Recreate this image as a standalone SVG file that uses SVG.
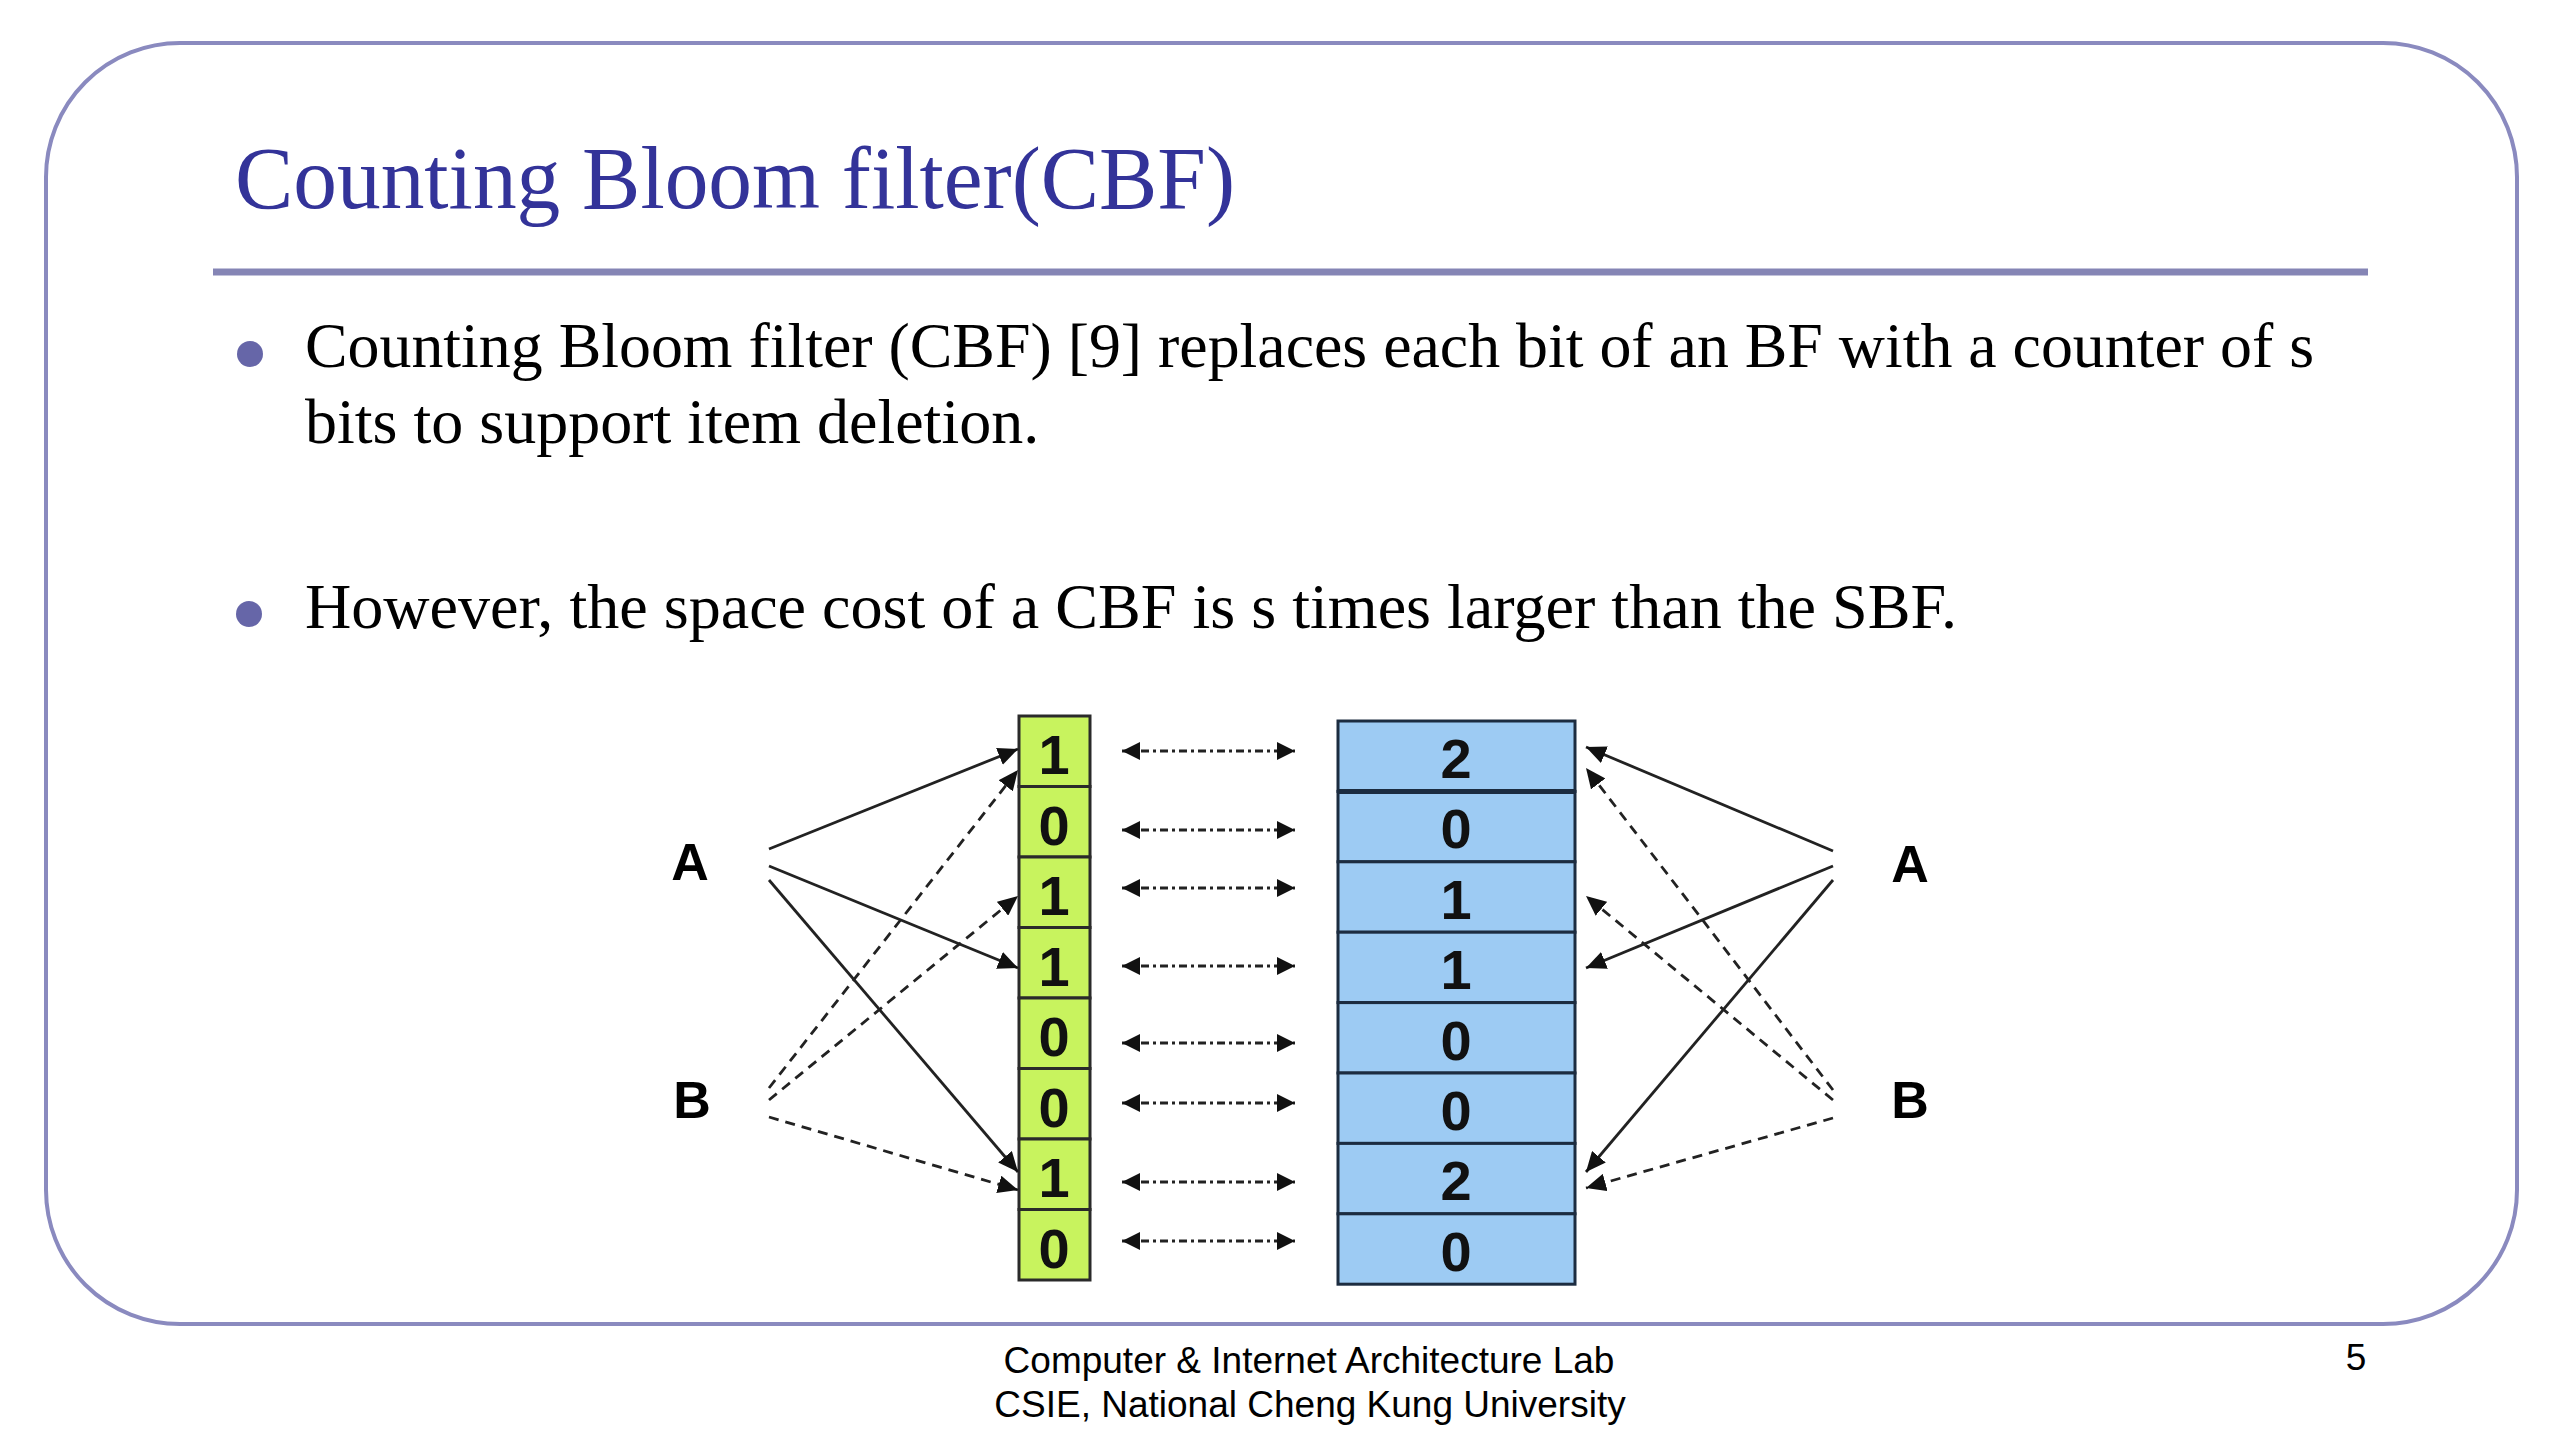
<svg xmlns="http://www.w3.org/2000/svg" width="2560" height="1440" viewBox="0 0 2560 1440">
<style>
.title{font-family:"Liberation Serif","Times New Roman",serif;font-size:88px;fill:#333399}
.body{font-family:"Liberation Serif","Times New Roman",serif;font-size:64px;fill:#000}
.foot{font-family:"Liberation Sans",Arial,sans-serif;font-size:37px;fill:#000}
.lbl{font-family:"Liberation Sans",Arial,sans-serif;font-size:52px;font-weight:bold;fill:#000;text-anchor:middle}
.dig{font-family:"Liberation Sans",Arial,sans-serif;font-size:56px;font-weight:bold;fill:#111;text-anchor:middle}
.g{fill:#C8F35E;stroke:#2a2a2a;stroke-width:3}
.b{fill:#9DCBF3;stroke:#1c2c40;stroke-width:3}
.solid{stroke:#222;stroke-width:2.8;fill:none;marker-end:url(#ah)}
.dash{stroke:#222;stroke-width:2.8;fill:none;stroke-dasharray:10 7;marker-end:url(#ah)}
.mid{stroke:#222;stroke-width:3;fill:none;stroke-dasharray:8 4 3 4;marker-end:url(#ah2);marker-start:url(#ah2)}
</style>
<defs>
<marker id="ah" markerUnits="userSpaceOnUse" markerWidth="22" markerHeight="18" refX="20" refY="9" orient="auto"><path d="M0,0 L20,9 L0,18 Z" fill="#111"/></marker>
<marker id="ah2" markerUnits="userSpaceOnUse" markerWidth="22" markerHeight="18" refX="18" refY="9" orient="auto-start-reverse"><path d="M0,0 L18,9 L0,18 Z" fill="#111"/></marker>
</defs>
<rect x="46" y="43" width="2471" height="1281" rx="134" ry="134" fill="#fff" stroke="#8A8ABF" stroke-width="4"/>
<g id="title"><text class="title" x="235" y="208" textLength="1000" lengthAdjust="spacingAndGlyphs">Counting Bloom filter(CBF)</text>
<line x1="213" y1="272" x2="2368" y2="272" stroke="#8585B5" stroke-width="7"/></g>
<g id="bullets">
<circle cx="250" cy="354" r="13" fill="#6666A8"/>
<text class="body" x="305" y="367" textLength="2009" lengthAdjust="spacingAndGlyphs">Counting Bloom filter (CBF) [9] replaces each bit of an BF with a counter of s</text>
<text class="body" x="305" y="443">bits to support item deletion.</text>
<circle cx="249" cy="614" r="13" fill="#6666A8"/>
<text class="body" x="305" y="628" textLength="1652" lengthAdjust="spacingAndGlyphs">However, the space cost of a CBF is s times larger than the SBF.</text>
</g>
<g id="bf">
<rect class="g" x="1019" y="716" width="71" height="70.5"/><text class="dig" x="1054" y="774">1</text>
<rect class="g" x="1019" y="786.5" width="71" height="70.5"/><text class="dig" x="1054" y="844.5">0</text>
<rect class="g" x="1019" y="857" width="71" height="70.5"/><text class="dig" x="1054" y="915">1</text>
<rect class="g" x="1019" y="927.5" width="71" height="70.5"/><text class="dig" x="1054" y="985.5">1</text>
<rect class="g" x="1019" y="998" width="71" height="70.5"/><text class="dig" x="1054" y="1056">0</text>
<rect class="g" x="1019" y="1068.5" width="71" height="70.5"/><text class="dig" x="1054" y="1126.5">0</text>
<rect class="g" x="1019" y="1139" width="71" height="70.5"/><text class="dig" x="1054" y="1197">1</text>
<rect class="g" x="1019" y="1209.5" width="71" height="70.5"/><text class="dig" x="1054" y="1267.5">0</text>
</g>
<g id="cbf">
<rect class="b" x="1338" y="721" width="237" height="70.4"/><text class="dig" x="1456" y="778">2</text>
<rect class="b" x="1338" y="791.4" width="237" height="70.4"/><text class="dig" x="1456" y="848.4">0</text>
<rect class="b" x="1338" y="861.8" width="237" height="70.4"/><text class="dig" x="1456" y="918.8">1</text>
<rect class="b" x="1338" y="932.2" width="237" height="70.4"/><text class="dig" x="1456" y="989.2">1</text>
<rect class="b" x="1338" y="1002.6" width="237" height="70.4"/><text class="dig" x="1456" y="1059.6">0</text>
<rect class="b" x="1338" y="1073" width="237" height="70.4"/><text class="dig" x="1456" y="1130">0</text>
<rect class="b" x="1338" y="1143.4" width="237" height="70.4"/><text class="dig" x="1456" y="1200.4">2</text>
<rect class="b" x="1338" y="1213.8" width="237" height="70.4"/><text class="dig" x="1456" y="1270.8">0</text>
<line x1="1338" y1="791.4" x2="1575" y2="791.4" stroke="#1c2c40" stroke-width="5"/>
</g>
<g id="labels">
<text class="lbl" x="690" y="880">A</text>
<text class="lbl" x="692" y="1118">B</text>
<text class="lbl" x="1910" y="882">A</text>
<text class="lbl" x="1910" y="1118">B</text>
</g>
<g id="connectors">
<line class="solid" x1="769" y1="849" x2="1018" y2="749"/>
<line class="solid" x1="769" y1="866" x2="1018" y2="968"/>
<line class="solid" x1="769" y1="880" x2="1018" y2="1172"/>
<line class="dash" x1="769" y1="1088" x2="1018" y2="770"/>
<line class="dash" x1="769" y1="1100" x2="1018" y2="896"/>
<line class="dash" x1="769" y1="1117" x2="1018" y2="1190"/>
<line class="solid" x1="1833" y1="851" x2="1586" y2="747"/>
<line class="solid" x1="1833" y1="866" x2="1586" y2="968"/>
<line class="solid" x1="1833" y1="880" x2="1586" y2="1172"/>
<line class="dash" x1="1833" y1="1090" x2="1586" y2="768"/>
<line class="dash" x1="1833" y1="1100" x2="1586" y2="896"/>
<line class="dash" x1="1833" y1="1118" x2="1586" y2="1188"/>
<line class="mid" x1="1122" y1="751" x2="1295" y2="751"/>
<line class="mid" x1="1122" y1="830" x2="1295" y2="830"/>
<line class="mid" x1="1122" y1="888" x2="1295" y2="888"/>
<line class="mid" x1="1122" y1="966" x2="1295" y2="966"/>
<line class="mid" x1="1122" y1="1043" x2="1295" y2="1043"/>
<line class="mid" x1="1122" y1="1103" x2="1295" y2="1103"/>
<line class="mid" x1="1122" y1="1182" x2="1295" y2="1182"/>
<line class="mid" x1="1122" y1="1241" x2="1295" y2="1241"/>
</g>
<g id="footer">
<text class="foot" x="1309" y="1373" text-anchor="middle">Computer &amp; Internet Architecture Lab</text>
<text class="foot" x="1310" y="1417" text-anchor="middle">CSIE, National Cheng Kung University</text>
<text class="foot" x="2356" y="1370" text-anchor="middle">5</text>
</g>
</svg>
